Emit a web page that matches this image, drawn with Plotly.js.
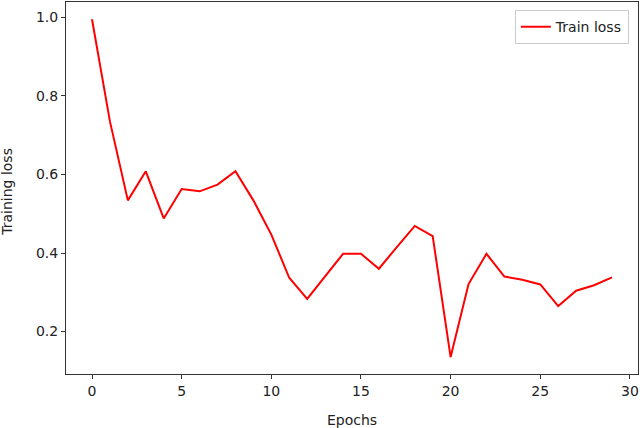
<!DOCTYPE html>
<html>
<head>
<meta charset="utf-8">
<script src="https://cdn.plot.ly/plotly-3.0.1.min.js"></script>
<style>
  body { margin: 0; background: #fff; }
  #graph { width: 640px; height: 428px; }
</style>
</head>
<body>
<div id="graph"></div>
<script>
// loss per epoch
const epochs = [0, 1, 2, 3, 4, 5, 6, 7, 8, 9, 10, 11, 12, 13, 14, 15, 16, 17, 18, 19, 20, 21, 22, 23, 24, 25, 26, 27, 28, 29];
const trainLoss = [0.995, 0.735, 0.534, 0.608, 0.488, 0.563, 0.557, 0.574, 0.608, 0.534, 0.447, 0.337, 0.283, 0.340, 0.398,
                   0.398, 0.360, 0.415, 0.469, 0.443, 0.135, 0.321, 0.398, 0.340, 0.332, 0.320, 0.265, 0.304, 0.318, 0.338];
const xTicks = [0, 5, 10, 15, 20, 25, 30];
const yTicks = [0.2, 0.4, 0.6, 0.8, 1.0];

const font = { family: 'DejaVu Sans, sans-serif', size: 14, color: '#222' };

const data = [{
  x: epochs,
  y: trainLoss,
  mode: 'lines',
  type: 'scatter',
  name: 'Train loss',
  line: { color: '#ff0000', width: 2 }
}];

const axisStyle = {
  showline: true,
  mirror: true,
  linecolor: '#333',
  linewidth: 1,
  showgrid: false,
  zeroline: false,
  ticks: 'outside',
  ticklen: 4,
  tickcolor: '#333',
  tickfont: font
};

const layout = {
  width: 640,
  height: 428,
  margin: { l: 66, r: 2, t: 2, b: 54 },
  paper_bgcolor: '#fff',
  plot_bgcolor: '#fff',
  font: font,
  showlegend: true,
  legend: {
    x: 0.984, y: 0.978, xanchor: 'right', yanchor: 'top',
    bordercolor: '#ccc', borderwidth: 1, bgcolor: '#fff',
    font: font
  },
  xaxis: Object.assign({}, axisStyle, {
    range: [-1.45, 30.45],
    tickvals: xTicks,
    ticktext: xTicks.map(String),
    title: { text: 'Epochs', font: font, standoff: 17 }
  }),
  yaxis: Object.assign({}, axisStyle, {
    range: [0.092, 1.039],
    tickvals: yTicks,
    ticktext: yTicks.map(v => v.toFixed(1))
  }),
  // y title sits against the left edge, as in the original
  annotations: [{
    text: 'Training loss',
    textangle: -90,
    xref: 'paper', yref: 'paper',
    x: -0.103, y: 0.49,
    xanchor: 'center', yanchor: 'middle',
    showarrow: false,
    font: font
  }]
};

Plotly.newPlot('graph', data, layout, { displayModeBar: false, staticPlot: true });
</script>
</body>
</html>
